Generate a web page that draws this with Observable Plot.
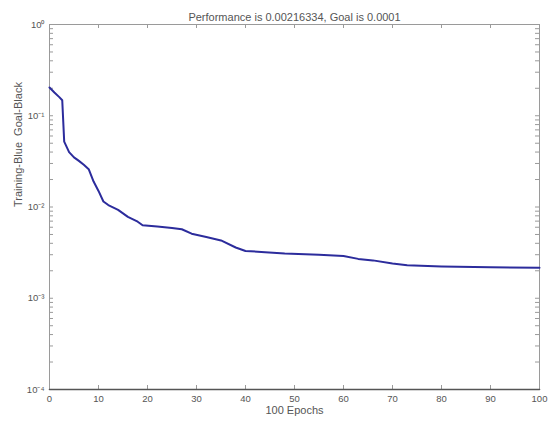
<!DOCTYPE html>
<html>
<head>
<meta charset="utf-8">
<script src="https://cdn.jsdelivr.net/npm/d3@7"></script>
<script src="https://cdn.jsdelivr.net/npm/@observablehq/plot@0.6"></script>
<style>
  html, body { margin: 0; padding: 0; background: #fff; }
  svg { font-family: "Liberation Sans", Arial, sans-serif; }
</style>
</head>
<body>
<div id="chart"></div>
<script>
const titleText = "Performance is 0.00216334, Goal is 0.0001";
const xLabel = "100 Epochs";
const yLabel = "Training-Blue  Goal-Black";
const goal = 0.0001;

const epochs = [0, 1, 2, 2.6, 3, 4, 5, 6, 7, 8, 9, 10, 11, 12, 14, 16, 18, 19, 22, 25, 27, 29, 32, 35, 38, 40, 44, 48, 55, 60, 63, 66, 70, 73, 80, 90, 100];
const perf = [0.204, 0.18, 0.16, 0.148, 0.052, 0.040, 0.035, 0.032, 0.029, 0.026, 0.019, 0.015, 0.0115, 0.0105, 0.0093, 0.0078, 0.0069, 0.0063, 0.0061, 0.0059, 0.0057, 0.0051, 0.0047, 0.0043, 0.0036, 0.0033, 0.0032, 0.0031, 0.0030, 0.0029, 0.0027, 0.0026, 0.0024, 0.0023, 0.00223, 0.00219, 0.00216];

const xTicks = [0, 10, 20, 30, 40, 50, 60, 70, 80, 90, 100];
const yTicks = [1, 0.1, 0.01, 0.001, 0.0001];
const yTickLabels = ["10⁰", "10⁻¹", "10⁻²", "10⁻³", "10⁻⁴"];

const data = epochs.map((e, i) => ({epoch: e, perf: perf[i]}));
const goalData = [{epoch: 0, perf: goal}, {epoch: 100, perf: goal}];

// minor log ticks 2..9 in each decade
const yMinor = [];
for (let d = -4; d < 0; d++) for (let k = 2; k <= 9; k++) yMinor.push(k * Math.pow(10, d));
const yAllTicks = yTicks.concat(yMinor);

const W = 560, H = 421, mL = 49, mR = 21, mT = 24, mB = 32;
const frameW = W - mL - mR, frameH = H - mT - mB;
const axisColor = "#9a9a9a";
const textColor = "#555";
const tickLen = 4;

const chart = Plot.plot({
  width: W,
  height: H,
  marginLeft: mL,
  marginRight: mR,
  marginTop: mT,
  marginBottom: mB,
  style: {background: "#fff", color: textColor},
  x: {domain: [0, 100]},
  y: {type: "log", domain: [0.0001, 1]},
  marks: [
    Plot.frame({stroke: axisColor}),
    // inward ticks on all four sides
    Plot.tickX(xTicks, {x: d => d, stroke: axisColor, insetTop: frameH - tickLen}),
    Plot.tickX(xTicks, {x: d => d, stroke: axisColor, insetBottom: frameH - tickLen}),
    Plot.tickY(yAllTicks, {y: d => d, stroke: axisColor, insetRight: frameW - tickLen}),
    Plot.tickY(yAllTicks, {y: d => d, stroke: axisColor, insetLeft: frameW - tickLen}),
    // tick labels
    Plot.axisX({ticks: xTicks, tickSize: 0, tickPadding: 6, fontSize: 9.5, label: null}),
    Plot.axisY({ticks: yTicks, tickSize: 0, tickPadding: 5, fontSize: 9.5, label: null,
      tickFormat: d => yTickLabels[yTicks.indexOf(d)]}),
    // goal line
    Plot.line(goalData, {x: "epoch", y: "perf", stroke: "#555", strokeWidth: 1.6}),
    // training curve
    Plot.line(data, {x: "epoch", y: "perf", stroke: "#2c2c9c", strokeWidth: 2, strokeLinejoin: "round"}),
    Plot.text([titleText], {frameAnchor: "top", dy: -11.5, fontSize: 11, fill: textColor}),
    Plot.text([xLabel], {frameAnchor: "bottom", dy: 24, fontSize: 11, fill: textColor}),
    Plot.text([yLabel], {frameAnchor: "left", dx: -31, rotate: -90, fontSize: 11, fill: textColor})
  ]
});
document.getElementById("chart").appendChild(chart);
</script>
</body>
</html>
